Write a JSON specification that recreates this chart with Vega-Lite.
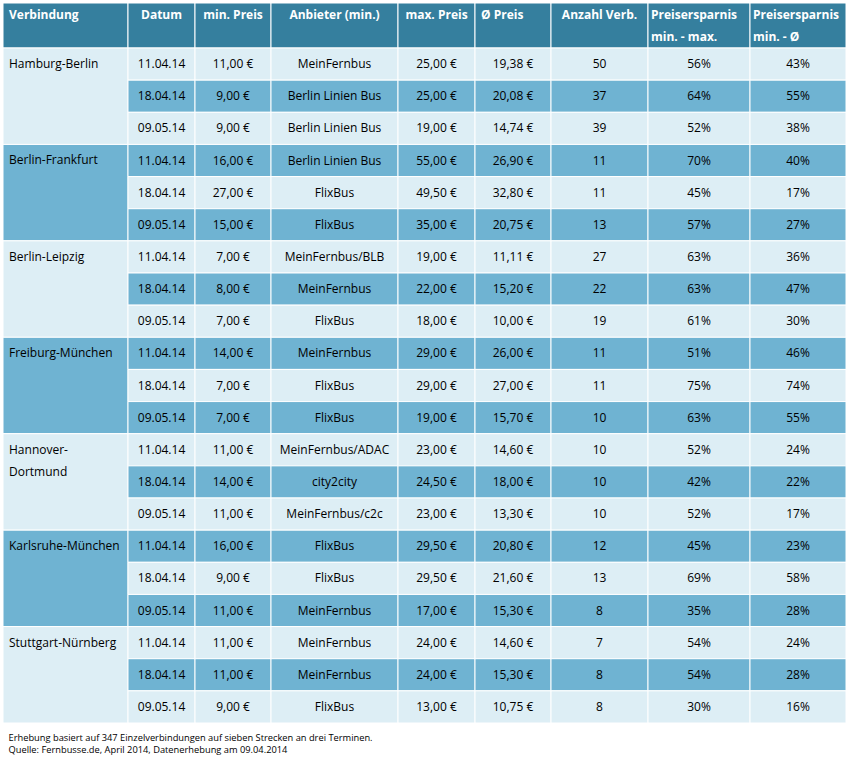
{
  "$schema": "https://vega.github.io/schema/vega-lite/v6.json",
  "padding": {"left": 2, "top": 2, "right": 0, "bottom": 0},
  "background": "white",
  "bounds": "flush",
  "columns": 9,
  "spacing": 0,
  "config": {
    "view": {"stroke": null},
    "concat": {"spacing": 0},
    "locale": {"number": {"decimal": ",", "thousands": ".", "grouping": [3], "currency": ["", " €"], "percent": "%"}},
    "text": {"font": "Open Sans", "fontSize": 12, "fill": "black"}
  },
  "title": {
    "text": ["Erhebung basiert auf 347 Einzelverbindungen auf sieben Strecken an drei Terminen.", "Quelle: Fernbusse.de, April 2014, Datenerhebung am 09.04.2014"],
    "orient": "bottom", "anchor": "start", "font": "Open Sans", "fontSize": 9.3, "fontWeight": "normal", "color": "black", "offset": 10, "dx": 6, "lineHeight": 12
  },
  "datasets": {
    "rows": [
      {"Verbindung": "Hamburg-Berlin", "Datum": "11.04.14", "minPreis": 11, "Anbieter": "MeinFernbus", "maxPreis": 25, "avgPreis": 19.38, "Anzahl": 50, "spMax": 0.56, "spAvg": 0.43},
      {"Verbindung": "Hamburg-Berlin", "Datum": "18.04.14", "minPreis": 9, "Anbieter": "Berlin Linien Bus", "maxPreis": 25, "avgPreis": 20.08, "Anzahl": 37, "spMax": 0.64, "spAvg": 0.55},
      {"Verbindung": "Hamburg-Berlin", "Datum": "09.05.14", "minPreis": 9, "Anbieter": "Berlin Linien Bus", "maxPreis": 19, "avgPreis": 14.74, "Anzahl": 39, "spMax": 0.52, "spAvg": 0.38},
      {"Verbindung": "Berlin-Frankfurt", "Datum": "11.04.14", "minPreis": 16, "Anbieter": "Berlin Linien Bus", "maxPreis": 55, "avgPreis": 26.9, "Anzahl": 11, "spMax": 0.70, "spAvg": 0.40},
      {"Verbindung": "Berlin-Frankfurt", "Datum": "18.04.14", "minPreis": 27, "Anbieter": "FlixBus", "maxPreis": 49.5, "avgPreis": 32.8, "Anzahl": 11, "spMax": 0.45, "spAvg": 0.17},
      {"Verbindung": "Berlin-Frankfurt", "Datum": "09.05.14", "minPreis": 15, "Anbieter": "FlixBus", "maxPreis": 35, "avgPreis": 20.75, "Anzahl": 13, "spMax": 0.57, "spAvg": 0.27},
      {"Verbindung": "Berlin-Leipzig", "Datum": "11.04.14", "minPreis": 7, "Anbieter": "MeinFernbus/BLB", "maxPreis": 19, "avgPreis": 11.11, "Anzahl": 27, "spMax": 0.63, "spAvg": 0.36},
      {"Verbindung": "Berlin-Leipzig", "Datum": "18.04.14", "minPreis": 8, "Anbieter": "MeinFernbus", "maxPreis": 22, "avgPreis": 15.2, "Anzahl": 22, "spMax": 0.63, "spAvg": 0.47},
      {"Verbindung": "Berlin-Leipzig", "Datum": "09.05.14", "minPreis": 7, "Anbieter": "FlixBus", "maxPreis": 18, "avgPreis": 10, "Anzahl": 19, "spMax": 0.61, "spAvg": 0.30},
      {"Verbindung": "Freiburg-München", "Datum": "11.04.14", "minPreis": 14, "Anbieter": "MeinFernbus", "maxPreis": 29, "avgPreis": 26, "Anzahl": 11, "spMax": 0.51, "spAvg": 0.46},
      {"Verbindung": "Freiburg-München", "Datum": "18.04.14", "minPreis": 7, "Anbieter": "FlixBus", "maxPreis": 29, "avgPreis": 27, "Anzahl": 11, "spMax": 0.75, "spAvg": 0.74},
      {"Verbindung": "Freiburg-München", "Datum": "09.05.14", "minPreis": 7, "Anbieter": "FlixBus", "maxPreis": 19, "avgPreis": 15.7, "Anzahl": 10, "spMax": 0.63, "spAvg": 0.55},
      {"Verbindung": "Hannover-\nDortmund", "Datum": "11.04.14", "minPreis": 11, "Anbieter": "MeinFernbus/ADAC", "maxPreis": 23, "avgPreis": 14.6, "Anzahl": 10, "spMax": 0.52, "spAvg": 0.24},
      {"Verbindung": "Hannover-\nDortmund", "Datum": "18.04.14", "minPreis": 14, "Anbieter": "city2city", "maxPreis": 24.5, "avgPreis": 18, "Anzahl": 10, "spMax": 0.42, "spAvg": 0.22},
      {"Verbindung": "Hannover-\nDortmund", "Datum": "09.05.14", "minPreis": 11, "Anbieter": "MeinFernbus/c2c", "maxPreis": 23, "avgPreis": 13.3, "Anzahl": 10, "spMax": 0.52, "spAvg": 0.17},
      {"Verbindung": "Karlsruhe-München", "Datum": "11.04.14", "minPreis": 16, "Anbieter": "FlixBus", "maxPreis": 29.5, "avgPreis": 20.8, "Anzahl": 12, "spMax": 0.45, "spAvg": 0.23},
      {"Verbindung": "Karlsruhe-München", "Datum": "18.04.14", "minPreis": 9, "Anbieter": "FlixBus", "maxPreis": 29.5, "avgPreis": 21.6, "Anzahl": 13, "spMax": 0.69, "spAvg": 0.58},
      {"Verbindung": "Karlsruhe-München", "Datum": "09.05.14", "minPreis": 11, "Anbieter": "MeinFernbus", "maxPreis": 17, "avgPreis": 15.3, "Anzahl": 8, "spMax": 0.35, "spAvg": 0.28},
      {"Verbindung": "Stuttgart-Nürnberg", "Datum": "11.04.14", "minPreis": 11, "Anbieter": "MeinFernbus", "maxPreis": 24, "avgPreis": 14.6, "Anzahl": 7, "spMax": 0.54, "spAvg": 0.24},
      {"Verbindung": "Stuttgart-Nürnberg", "Datum": "18.04.14", "minPreis": 11, "Anbieter": "MeinFernbus", "maxPreis": 24, "avgPreis": 15.3, "Anzahl": 8, "spMax": 0.54, "spAvg": 0.28},
      {"Verbindung": "Stuttgart-Nürnberg", "Datum": "09.05.14", "minPreis": 9, "Anbieter": "FlixBus", "maxPreis": 13, "avgPreis": 10.75, "Anzahl": 8, "spMax": 0.30, "spAvg": 0.16}
    ]
  },
  "concat": [
    {"width": 125, "height": 45, "data": {"values": [{"h": "Verbindung"}]}, "layer": [
      {"mark": {"type": "rect", "fill": "#357f9e", "stroke": "white", "strokeWidth": 1}, "encoding": {"x": {"value": 0}, "x2": {"value": "width"}, "y": {"value": 0}, "y2": {"value": "height"}}},
      {"mark": {"type": "text", "fill": "white", "fontWeight": "bold", "align": "left", "baseline": "alphabetic", "dx": 6, "dy": -7}, "encoding": {"x": {"value": 0}, "text": {"field": "h"}}}]},
    {"width": 67, "height": 45, "data": {"values": [{"h": "Datum"}]}, "layer": [
      {"mark": {"type": "rect", "fill": "#357f9e", "stroke": "white", "strokeWidth": 1}, "encoding": {"x": {"value": 0}, "x2": {"value": "width"}, "y": {"value": 0}, "y2": {"value": "height"}}},
      {"mark": {"type": "text", "fill": "white", "fontWeight": "bold", "baseline": "alphabetic", "dy": -7}, "encoding": {"text": {"field": "h"}}}]},
    {"width": 76, "height": 45, "data": {"values": [{"h": "min. Preis"}]}, "layer": [
      {"mark": {"type": "rect", "fill": "#357f9e", "stroke": "white", "strokeWidth": 1}, "encoding": {"x": {"value": 0}, "x2": {"value": "width"}, "y": {"value": 0}, "y2": {"value": "height"}}},
      {"mark": {"type": "text", "fill": "white", "fontWeight": "bold", "baseline": "alphabetic", "dy": -7}, "encoding": {"text": {"field": "h"}}}]},
    {"width": 127, "height": 45, "data": {"values": [{"h": "Anbieter (min.)"}]}, "layer": [
      {"mark": {"type": "rect", "fill": "#357f9e", "stroke": "white", "strokeWidth": 1}, "encoding": {"x": {"value": 0}, "x2": {"value": "width"}, "y": {"value": 0}, "y2": {"value": "height"}}},
      {"mark": {"type": "text", "fill": "white", "fontWeight": "bold", "baseline": "alphabetic", "dy": -7}, "encoding": {"text": {"field": "h"}}}]},
    {"width": 77, "height": 45, "data": {"values": [{"h": "max. Preis"}]}, "layer": [
      {"mark": {"type": "rect", "fill": "#357f9e", "stroke": "white", "strokeWidth": 1}, "encoding": {"x": {"value": 0}, "x2": {"value": "width"}, "y": {"value": 0}, "y2": {"value": "height"}}},
      {"mark": {"type": "text", "fill": "white", "fontWeight": "bold", "baseline": "alphabetic", "dy": -7}, "encoding": {"text": {"field": "h"}}}]},
    {"width": 76, "height": 45, "data": {"values": [{"h": "Ø Preis"}]}, "layer": [
      {"mark": {"type": "rect", "fill": "#357f9e", "stroke": "white", "strokeWidth": 1}, "encoding": {"x": {"value": 0}, "x2": {"value": "width"}, "y": {"value": 0}, "y2": {"value": "height"}}},
      {"mark": {"type": "text", "fill": "white", "fontWeight": "bold", "align": "left", "baseline": "alphabetic", "dx": 6, "dy": -7}, "encoding": {"x": {"value": 0}, "text": {"field": "h"}}}]},
    {"width": 97, "height": 45, "data": {"values": [{"h": "Anzahl Verb."}]}, "layer": [
      {"mark": {"type": "rect", "fill": "#357f9e", "stroke": "white", "strokeWidth": 1}, "encoding": {"x": {"value": 0}, "x2": {"value": "width"}, "y": {"value": 0}, "y2": {"value": "height"}}},
      {"mark": {"type": "text", "fill": "white", "fontWeight": "bold", "baseline": "alphabetic", "dy": -7}, "encoding": {"text": {"field": "h"}}}]},
    {"width": 102, "height": 45, "data": {"values": [{"h": "Preisersparnis\nmin. - max."}]}, "layer": [
      {"mark": {"type": "rect", "fill": "#357f9e", "stroke": "white", "strokeWidth": 1}, "encoding": {"x": {"value": 0}, "x2": {"value": "width"}, "y": {"value": 0}, "y2": {"value": "height"}}},
      {"mark": {"type": "text", "fill": "white", "fontWeight": "bold", "align": "left", "baseline": "alphabetic", "dx": 3, "dy": -7, "lineBreak": "\n", "lineHeight": 22}, "encoding": {"x": {"value": 0}, "text": {"field": "h"}}}]},
    {"width": 96, "height": 45, "data": {"values": [{"h": "Preisersparnis\nmin. - Ø"}]}, "layer": [
      {"mark": {"type": "rect", "fill": "#357f9e", "stroke": "white", "strokeWidth": 1}, "encoding": {"x": {"value": 0}, "x2": {"value": "width"}, "y": {"value": 0}, "y2": {"value": "height"}}},
      {"mark": {"type": "text", "fill": "white", "fontWeight": "bold", "align": "left", "baseline": "alphabetic", "dx": 3, "dy": -7, "lineBreak": "\n", "lineHeight": 22}, "encoding": {"x": {"value": 0}, "text": {"field": "h"}}}]},
    {"width": 125, "height": 675, "data": {"name": "rows"},
     "transform": [{"filter": "datum.Datum === '11.04.14'"}, {"window": [{"op": "row_number", "as": "nr"}]}],
     "layer": [
      {"mark": {"type": "rect", "stroke": "white", "strokeWidth": 1},
       "encoding": {"y": {"field": "nr", "type": "ordinal", "axis": null, "scale": {"type": "band", "paddingInner": 0, "paddingOuter": 0}}, "x": {"value": 0}, "x2": {"value": "width"},
         "color": {"condition": {"test": "datum.nr % 2 === 0", "value": "#6fb3d2"}, "value": "#ddeef5"}}},
      {"mark": {"type": "text", "align": "left", "baseline": "alphabetic", "dx": 6, "dy": 20, "lineBreak": "\n", "lineHeight": 22},
       "encoding": {"y": {"field": "nr", "type": "ordinal", "axis": null, "bandPosition": 0}, "x": {"value": 0}, "text": {"field": "Verbindung"}}}
     ]},
    {"width": 67, "height": 675, "data": {"name": "rows"},
     "transform": [{"window": [{"op": "row_number", "as": "nr"}]}],
     "encoding": {"y": {"field": "nr", "type": "ordinal", "axis": null, "scale": {"type": "band", "paddingInner": 0, "paddingOuter": 0}}},
     "layer": [
      {"mark": {"type": "rect", "stroke": "white", "strokeWidth": 1}, "encoding": {"x": {"value": 0}, "x2": {"value": "width"}, "color": {"condition": {"test": "datum.nr % 2 === 0", "value": "#6fb3d2"}, "value": "#ddeef5"}}},
      {"mark": {"type": "text"}, "encoding": {"text": {"field": "Datum"}}}
     ]},
    {"width": 76, "height": 675, "data": {"name": "rows"},
     "transform": [{"window": [{"op": "row_number", "as": "nr"}]}],
     "encoding": {"y": {"field": "nr", "type": "ordinal", "axis": null, "scale": {"type": "band", "paddingInner": 0, "paddingOuter": 0}}},
     "layer": [
      {"mark": {"type": "rect", "stroke": "white", "strokeWidth": 1}, "encoding": {"x": {"value": 0}, "x2": {"value": "width"}, "color": {"condition": {"test": "datum.nr % 2 === 0", "value": "#6fb3d2"}, "value": "#ddeef5"}}},
      {"mark": {"type": "text"}, "encoding": {"text": {"field": "minPreis", "type": "quantitative", "format": "$.2f"}}}
     ]},
    {"width": 127, "height": 675, "data": {"name": "rows"},
     "transform": [{"window": [{"op": "row_number", "as": "nr"}]}],
     "encoding": {"y": {"field": "nr", "type": "ordinal", "axis": null, "scale": {"type": "band", "paddingInner": 0, "paddingOuter": 0}}},
     "layer": [
      {"mark": {"type": "rect", "stroke": "white", "strokeWidth": 1}, "encoding": {"x": {"value": 0}, "x2": {"value": "width"}, "color": {"condition": {"test": "datum.nr % 2 === 0", "value": "#6fb3d2"}, "value": "#ddeef5"}}},
      {"mark": {"type": "text"}, "encoding": {"text": {"field": "Anbieter"}}}
     ]},
    {"width": 77, "height": 675, "data": {"name": "rows"},
     "transform": [{"window": [{"op": "row_number", "as": "nr"}]}],
     "encoding": {"y": {"field": "nr", "type": "ordinal", "axis": null, "scale": {"type": "band", "paddingInner": 0, "paddingOuter": 0}}},
     "layer": [
      {"mark": {"type": "rect", "stroke": "white", "strokeWidth": 1}, "encoding": {"x": {"value": 0}, "x2": {"value": "width"}, "color": {"condition": {"test": "datum.nr % 2 === 0", "value": "#6fb3d2"}, "value": "#ddeef5"}}},
      {"mark": {"type": "text"}, "encoding": {"text": {"field": "maxPreis", "type": "quantitative", "format": "$.2f"}}}
     ]},
    {"width": 76, "height": 675, "data": {"name": "rows"},
     "transform": [{"window": [{"op": "row_number", "as": "nr"}]}],
     "encoding": {"y": {"field": "nr", "type": "ordinal", "axis": null, "scale": {"type": "band", "paddingInner": 0, "paddingOuter": 0}}},
     "layer": [
      {"mark": {"type": "rect", "stroke": "white", "strokeWidth": 1}, "encoding": {"x": {"value": 0}, "x2": {"value": "width"}, "color": {"condition": {"test": "datum.nr % 2 === 0", "value": "#6fb3d2"}, "value": "#ddeef5"}}},
      {"mark": {"type": "text"}, "encoding": {"text": {"field": "avgPreis", "type": "quantitative", "format": "$.2f"}}}
     ]},
    {"width": 97, "height": 675, "data": {"name": "rows"},
     "transform": [{"window": [{"op": "row_number", "as": "nr"}]}],
     "encoding": {"y": {"field": "nr", "type": "ordinal", "axis": null, "scale": {"type": "band", "paddingInner": 0, "paddingOuter": 0}}},
     "layer": [
      {"mark": {"type": "rect", "stroke": "white", "strokeWidth": 1}, "encoding": {"x": {"value": 0}, "x2": {"value": "width"}, "color": {"condition": {"test": "datum.nr % 2 === 0", "value": "#6fb3d2"}, "value": "#ddeef5"}}},
      {"mark": {"type": "text"}, "encoding": {"text": {"field": "Anzahl", "type": "quantitative", "format": "d"}}}
     ]},
    {"width": 102, "height": 675, "data": {"name": "rows"},
     "transform": [{"window": [{"op": "row_number", "as": "nr"}]}],
     "encoding": {"y": {"field": "nr", "type": "ordinal", "axis": null, "scale": {"type": "band", "paddingInner": 0, "paddingOuter": 0}}},
     "layer": [
      {"mark": {"type": "rect", "stroke": "white", "strokeWidth": 1}, "encoding": {"x": {"value": 0}, "x2": {"value": "width"}, "color": {"condition": {"test": "datum.nr % 2 === 0", "value": "#6fb3d2"}, "value": "#ddeef5"}}},
      {"mark": {"type": "text"}, "encoding": {"text": {"field": "spMax", "type": "quantitative", "format": ".0%"}}}
     ]},
    {"width": 96, "height": 675, "data": {"name": "rows"},
     "transform": [{"window": [{"op": "row_number", "as": "nr"}]}],
     "encoding": {"y": {"field": "nr", "type": "ordinal", "axis": null, "scale": {"type": "band", "paddingInner": 0, "paddingOuter": 0}}},
     "layer": [
      {"mark": {"type": "rect", "stroke": "white", "strokeWidth": 1}, "encoding": {"x": {"value": 0}, "x2": {"value": "width"}, "color": {"condition": {"test": "datum.nr % 2 === 0", "value": "#6fb3d2"}, "value": "#ddeef5"}}},
      {"mark": {"type": "text"}, "encoding": {"text": {"field": "spAvg", "type": "quantitative", "format": ".0%"}}}
     ]}
  ]
}
